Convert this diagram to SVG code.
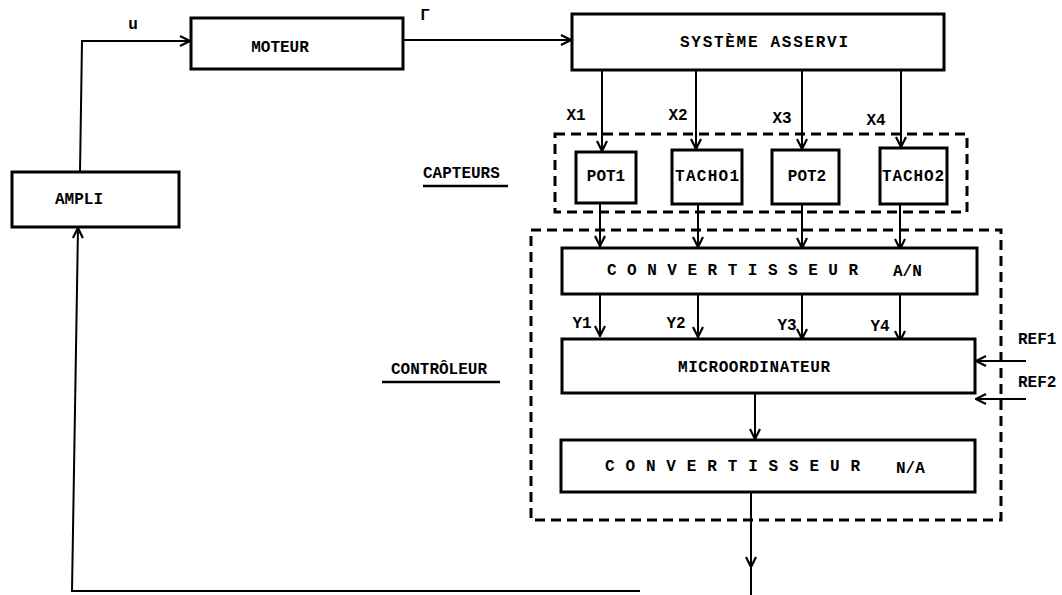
<svg xmlns="http://www.w3.org/2000/svg" width="1062" height="595" viewBox="0 0 1062 595">
<defs>
<marker id="arr" viewBox="0 0 12 12" refX="11" refY="6" markerWidth="12" markerHeight="12" markerUnits="userSpaceOnUse" orient="auto">
<path d="M1,1 L11,6 L1,11" fill="none" stroke="#000" stroke-width="2.2"/>
</marker>
<style>
.box{fill:#fff;stroke:#000;stroke-width:3}
.grp{fill:none;stroke:#000;stroke-width:3;stroke-dasharray:10 6}
.ln{fill:none;stroke:#000;stroke-width:2}
.t{font-family:"Liberation Mono","DejaVu Sans Mono",monospace;font-weight:bold;font-size:16px;fill:#000;text-anchor:middle;dominant-baseline:central}
.tl{font-family:"Liberation Mono","DejaVu Sans Mono",monospace;font-weight:bold;font-size:16px;fill:#000;dominant-baseline:central}
.ul{stroke:#000;stroke-width:2.5}
</style>
</defs>
<rect width="1062" height="595" fill="#fff"/>

<g id="groups">
<rect id="capteurs-group" class="grp" x="555" y="134" width="412" height="78"/>
<rect id="controleur-group" class="grp" x="531" y="230" width="470" height="290"/>
</g>

<g id="connectors">
<path class="ln" d="M80,172 L82,41 L190,41" marker-end="url(#arr)"/>
<path class="ln" d="M403,40 L571,40" marker-end="url(#arr)"/>
<path class="ln" d="M602,70 L602,151" marker-end="url(#arr)"/>
<path class="ln" d="M696,70 L696,149" marker-end="url(#arr)"/>
<path class="ln" d="M802,70 L802,149" marker-end="url(#arr)"/>
<path class="ln" d="M901,70 L901,147" marker-end="url(#arr)"/>
<path class="ln" d="M600,203 L600,246" marker-end="url(#arr)"/>
<path class="ln" d="M698,204 L698,247" marker-end="url(#arr)"/>
<path class="ln" d="M802,204 L802,248" marker-end="url(#arr)"/>
<path class="ln" d="M900,204 L900,249" marker-end="url(#arr)"/>
<path class="ln" d="M600,292 L600,336" marker-end="url(#arr)"/>
<path class="ln" d="M698,293 L698,337" marker-end="url(#arr)"/>
<path class="ln" d="M802,294 L802,339" marker-end="url(#arr)"/>
<path class="ln" d="M900,295 L900,341" marker-end="url(#arr)"/>
<path class="ln" d="M755,392 L755,439" marker-end="url(#arr)"/>
<path class="ln" d="M751,493 L751,567" marker-end="url(#arr)"/>
<path class="ln" d="M751,567 L751,595"/>
<path class="ln" d="M1026,361 L976,361" marker-end="url(#arr)"/>
<path class="ln" d="M1026,399 L976,399" marker-end="url(#arr)"/>
<path class="ln" d="M640,591 L72,591 L78,228" marker-end="url(#arr)"/>
</g>

<g id="moteur">
<rect class="box" x="191" y="18" width="212" height="51"/>
<text class="t" x="280" y="48">MOTEUR</text>
</g>
<g id="ampli">
<rect class="box" x="12" y="172" width="167" height="55"/>
<text class="t" x="79" y="200">AMPLI</text>
</g>
<g id="systeme">
<rect class="box" x="572" y="14" width="372" height="56"/>
<text class="t" x="764" y="43" textLength="168">SYSTÈME  ASSERVI</text>
</g>
<g id="pot1">
<rect class="box" x="576" y="152" width="60" height="51"/>
<text class="t" x="606" y="177">POT1</text>
</g>
<g id="tacho1">
<rect class="box" x="672" y="150" width="70" height="54"/>
<text class="t" x="707" y="177" textLength="64">TACHO1</text>
</g>
<g id="pot2">
<rect class="box" x="772" y="150" width="67" height="54"/>
<text class="t" x="807" y="177">POT2</text>
</g>
<g id="tacho2">
<rect class="box" x="880" y="148" width="67" height="56"/>
<text class="t" x="913" y="177" textLength="62">TACHO2</text>
</g>
<g id="can">
<rect class="box" x="562" y="248" width="415" height="46"/>
<text class="tl" x="607" y="271" textLength="251" lengthAdjust="spacing">CONVERTISSEUR</text>
<text class="tl" x="893" y="272">A/N</text>
</g>
<g id="micro">
<rect class="box" x="562" y="339" width="413" height="54"/>
<text class="t" x="754" y="368" textLength="152">MICROORDINATEUR</text>
</g>
<g id="cna">
<rect class="box" x="561" y="440" width="414" height="52"/>
<text class="tl" x="605" y="467" textLength="255" lengthAdjust="spacing">CONVERTISSEUR</text>
<text class="tl" x="896" y="469">N/A</text>
</g>

<g id="labels">
<text class="t" x="133" y="25">u</text>
<text class="t" x="425" y="16">Γ</text>
<text class="t" x="576" y="116">X1</text>
<text class="t" x="678" y="116">X2</text>
<text class="t" x="782" y="119">X3</text>
<text class="t" x="876" y="121">X4</text>
<text class="t" x="582" y="324">Y1</text>
<text class="t" x="676" y="324">Y2</text>
<text class="t" x="787" y="326">Y3</text>
<text class="t" x="880" y="327">Y4</text>
<text class="tl" x="1018" y="340">REF1</text>
<text class="tl" x="1018" y="383">REF2</text>
<text class="tl" x="423" y="174">CAPTEURS</text>
<line class="ul" x1="423" y1="186" x2="508" y2="186"/>
<text class="tl" x="391" y="370">CONTRÔLEUR</text>
<line class="ul" x1="382" y1="382" x2="500" y2="382"/>
</g>
</svg>
